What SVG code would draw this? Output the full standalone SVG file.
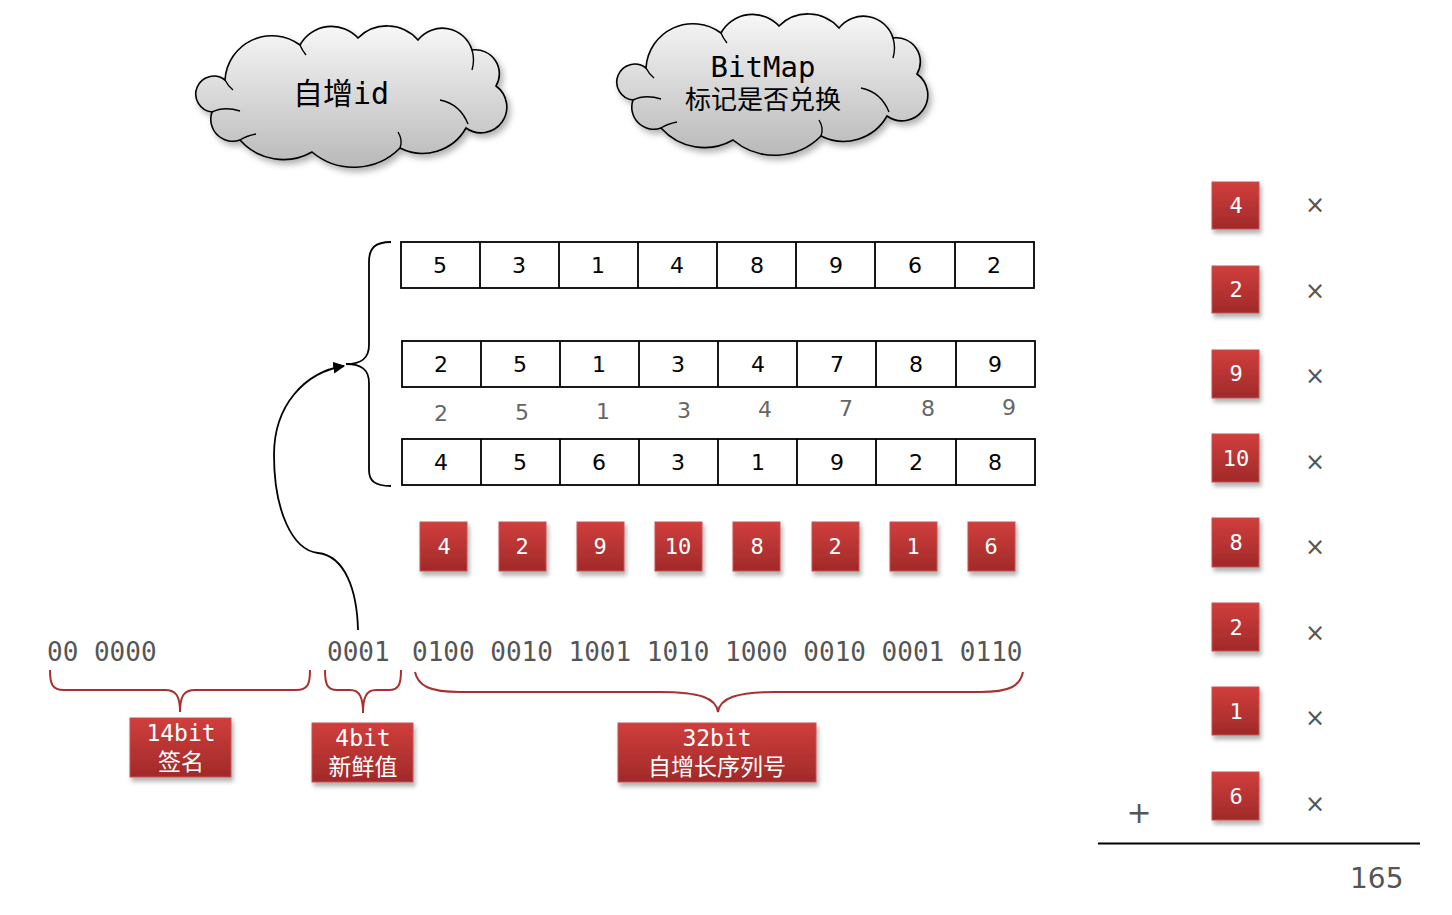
<svg xmlns="http://www.w3.org/2000/svg" width="1452" height="915" viewBox="0 0 1452 915">
<style>
.cell{fill:#fff;stroke:#000;stroke-width:1.8}
.cl{stroke:#000;stroke-width:1.8}
.cn{font-family:"DejaVu Sans",sans-serif;font-size:22px;fill:#000;text-anchor:middle}
.gn{font-family:"DejaVu Sans",sans-serif;font-size:22px;fill:#666;text-anchor:middle}
.rb{fill:url(#red);stroke:#c8504e;stroke-width:1;filter:url(#sh)}
.rt{font-family:"DejaVu Sans Mono",monospace;font-size:22px;fill:#fff;text-anchor:middle}
.lt{font-family:"DejaVu Sans Mono","Noto Sans CJK SC",monospace;font-size:23px;fill:#fff;text-anchor:middle}
.bin{font-family:"DejaVu Sans Mono",monospace;font-size:26px;fill:#555}
.x{font-family:"DejaVu Sans",sans-serif;font-size:24px;fill:#555;text-anchor:middle}
.rbrace{fill:none;stroke:#aa3030;stroke-width:2}
.cloud{fill:url(#cg);stroke:#000;stroke-width:1.6;filter:url(#csh)}
.inner{fill:none;stroke:#000;stroke-width:1.4}
.ct{font-family:"DejaVu Sans Mono","Noto Sans CJK SC",monospace;fill:#000;text-anchor:middle}
</style>
<defs>
<linearGradient id="red" x1="0" y1="0" x2="0" y2="1">
<stop offset="0" stop-color="#d03e3c"/>
<stop offset="1" stop-color="#a02a29"/>
</linearGradient>
<linearGradient id="cg" x1="0" y1="0" x2="0" y2="1">
<stop offset="0" stop-color="#f7f7f7"/>
<stop offset="1" stop-color="#b9b9b9"/>
</linearGradient>
<filter id="sh" x="-20%" y="-20%" width="150%" height="160%">
<feDropShadow dx="2" dy="4" stdDeviation="2" flood-color="#000" flood-opacity="0.3"/>
</filter>
<filter id="csh" x="-10%" y="-10%" width="130%" height="140%">
<feDropShadow dx="3" dy="4" stdDeviation="3" flood-color="#000" flood-opacity="0.3"/>
</filter>
<marker id="ah" viewBox="0 0 10 10" refX="9" refY="5" markerWidth="12" markerHeight="12" markerUnits="userSpaceOnUse" orient="auto">
<path d="M0,0 L10,5 L0,10 z" fill="#000"/>
</marker>
<g id="cloudshape">
<path class="cloud" d="M225,80 A47,47 0 0 1 300,45 A36,36 0 0 1 358,38 A41,41 0 0 1 418,40 A31,31 0 0 1 472,50 A24,24 0 0 1 496,86 A24,24 0 0 1 466,128 A50,50 0 0 1 400,148 A65,65 0 0 1 312,152 A58,58 0 0 1 240,140 A22,22 0 0 1 212,112 A18,18 0 1 1 225,80 Z"/>
<path class="inner" d="M212,112 Q224,106 240,111"/>
<path class="inner" d="M440,100 Q460,104 468,124"/>
<path class="inner" d="M472,50 Q475,60 472,70"/>
<path class="inner" d="M225,80 Q228,86 233,90"/>
<path class="inner" d="M240,140 Q246,136 256,134"/>
<path class="inner" d="M400,148 Q403,140 398,132"/>
<path class="inner" d="M300,45 Q302,50 306,55"/>
</g>
</defs>

<g id="cloud-autoid">
<use href="#cloudshape"/>
<text class="ct" x="341" y="104" font-size="30">自增id</text>
</g>
<g id="cloud-bitmap">
<use href="#cloudshape" transform="translate(421,-12)"/>
<text class="ct" x="763" y="77" font-size="29">BitMap</text>
<text class="ct" x="763" y="109" font-size="26">标记是否兑换</text>
</g>

<g id="connectors">
<path d="M391,242 C375,242 369,248 369,262 L369,345 C369,358 362,364 346,364 C362,364 369,370 369,383 L369,470 C369,481 375,486 391,486" fill="none" stroke="#000" stroke-width="1.8"/>
<path d="M358,630 C357,590 345,556 318,553 C292,550 274,510 274,455 C274,405 305,372 344,366" fill="none" stroke="#000" stroke-width="1.8" marker-end="url(#ah)"/>
<path class="rbrace" d="M50,670 C50,684 52,690 64,690 L165,690 C176,690 180,696 180,712 C180,696 184,690 195,690 L296,690 C308,690 310,684 310,670"/>
<path class="rbrace" d="M325,670 C325,684 327,690 337,690 L350,690 C360,690 363,698 363,713 C363,698 366,690 376,690 L389,690 C399,690 401,684 401,670"/>
<path class="rbrace" d="M415,672 C418,686 430,692 460,692 L660,692 C700,692 716,698 718,712 C720,698 736,692 776,692 L980,692 C1010,692 1020,686 1023,672"/>
</g>

<g id="row1">
<rect class="cell" x="401" y="242" width="633" height="46"/>
<path class="cl" d="M480,242V288M559,242V288M638,242V288M717,242V288M796,242V288M875,242V288M955,242V288"/>
<text class="cn" x="440" y="273">5</text>
<text class="cn" x="519" y="273">3</text>
<text class="cn" x="598" y="273">1</text>
<text class="cn" x="677" y="273">4</text>
<text class="cn" x="757" y="273">8</text>
<text class="cn" x="836" y="273">9</text>
<text class="cn" x="915" y="273">6</text>
<text class="cn" x="994" y="273">2</text>
</g>
<g id="row2">
<rect class="cell" x="402" y="341" width="633" height="46"/>
<path class="cl" d="M481,341V387M560,341V387M639,341V387M718,341V387M797,341V387M876,341V387M956,341V387"/>
<text class="cn" x="441" y="372">2</text>
<text class="cn" x="520" y="372">5</text>
<text class="cn" x="599" y="372">1</text>
<text class="cn" x="678" y="372">3</text>
<text class="cn" x="758" y="372">4</text>
<text class="cn" x="837" y="372">7</text>
<text class="cn" x="916" y="372">8</text>
<text class="cn" x="995" y="372">9</text>
</g>
<g id="gray-row">
<text class="gn" x="441" y="421">2</text>
<text class="gn" x="522" y="420">5</text>
<text class="gn" x="603" y="419">1</text>
<text class="gn" x="684" y="418">3</text>
<text class="gn" x="765" y="417">4</text>
<text class="gn" x="846" y="416">7</text>
<text class="gn" x="928" y="416">8</text>
<text class="gn" x="1009" y="415">9</text>
</g>
<g id="row3">
<rect class="cell" x="402" y="439" width="633" height="46"/>
<path class="cl" d="M481,439V485M560,439V485M639,439V485M718,439V485M797,439V485M876,439V485M956,439V485"/>
<text class="cn" x="441" y="470">4</text>
<text class="cn" x="520" y="470">5</text>
<text class="cn" x="599" y="470">6</text>
<text class="cn" x="678" y="470">3</text>
<text class="cn" x="758" y="470">1</text>
<text class="cn" x="837" y="470">9</text>
<text class="cn" x="916" y="470">2</text>
<text class="cn" x="995" y="470">8</text>
</g>

<g id="red-row">
<rect class="rb" x="420" y="522" width="47" height="49"/><text class="rt" x="444" y="554">4</text>
<rect class="rb" x="499" y="522" width="47" height="49"/><text class="rt" x="522" y="554">2</text>
<rect class="rb" x="577" y="522" width="47" height="49"/><text class="rt" x="600" y="554">9</text>
<rect class="rb" x="655" y="522" width="47" height="49"/><text class="rt" x="678" y="554">10</text>
<rect class="rb" x="733" y="522" width="47" height="49"/><text class="rt" x="757" y="554">8</text>
<rect class="rb" x="812" y="522" width="47" height="49"/><text class="rt" x="835" y="554">2</text>
<rect class="rb" x="890" y="522" width="47" height="49"/><text class="rt" x="913" y="554">1</text>
<rect class="rb" x="968" y="522" width="47" height="49"/><text class="rt" x="991" y="554">6</text>
</g>

<g id="binary">
<text class="bin" x="47" y="661">00 0000</text>
<text class="bin" x="327" y="661">0001</text>
<text class="bin" x="412" y="661">0100 0010 1001 1010 1000 0010 0001 0110</text>
</g>

<g id="label-14bit">
<rect class="rb" x="130" y="718" width="101" height="59"/>
<text class="lt" x="181" y="741">14bit</text>
<text class="lt" x="181" y="770" font-size="24">签名</text>
</g>
<g id="label-4bit">
<rect class="rb" x="312" y="723" width="101" height="59"/>
<text class="lt" x="363" y="746">4bit</text>
<text class="lt" x="363" y="775" font-size="24">新鲜值</text>
</g>
<g id="label-32bit">
<rect class="rb" x="618" y="723" width="198" height="59"/>
<text class="lt" x="717" y="746">32bit</text>
<text class="lt" x="717" y="775" font-size="24">自增长序列号</text>
</g>

<g id="sum-column">
<rect class="rb" x="1212" y="182" width="47" height="47"/><text class="rt" x="1236" y="213">4</text>
<rect class="rb" x="1212" y="266" width="47" height="47"/><text class="rt" x="1236" y="297">2</text>
<rect class="rb" x="1212" y="350" width="47" height="48"/><text class="rt" x="1236" y="381">9</text>
<rect class="rb" x="1212" y="434" width="47" height="48"/><text class="rt" x="1236" y="466">10</text>
<rect class="rb" x="1212" y="518" width="47" height="49"/><text class="rt" x="1236" y="550">8</text>
<rect class="rb" x="1212" y="603" width="47" height="48"/><text class="rt" x="1236" y="635">2</text>
<rect class="rb" x="1212" y="687" width="47" height="48"/><text class="rt" x="1236" y="719">1</text>
<rect class="rb" x="1212" y="772" width="47" height="48"/><text class="rt" x="1236" y="804">6</text>
<text class="x" x="1315" y="213">×</text>
<text class="x" x="1315" y="299">×</text>
<text class="x" x="1315" y="384">×</text>
<text class="x" x="1315" y="470">×</text>
<text class="x" x="1315" y="555">×</text>
<text class="x" x="1315" y="641">×</text>
<text class="x" x="1315" y="726">×</text>
<text class="x" x="1315" y="812">×</text>
<text x="1139" y="823" font-family="DejaVu Sans, sans-serif" font-size="30" fill="#555" text-anchor="middle">+</text>
<line x1="1098" y1="843.5" x2="1420" y2="843.5" stroke="#000" stroke-width="2"/>
<text x="1350" y="888" font-family="DejaVu Sans, sans-serif" font-size="28" fill="#555">165</text>
</g>
</svg>
